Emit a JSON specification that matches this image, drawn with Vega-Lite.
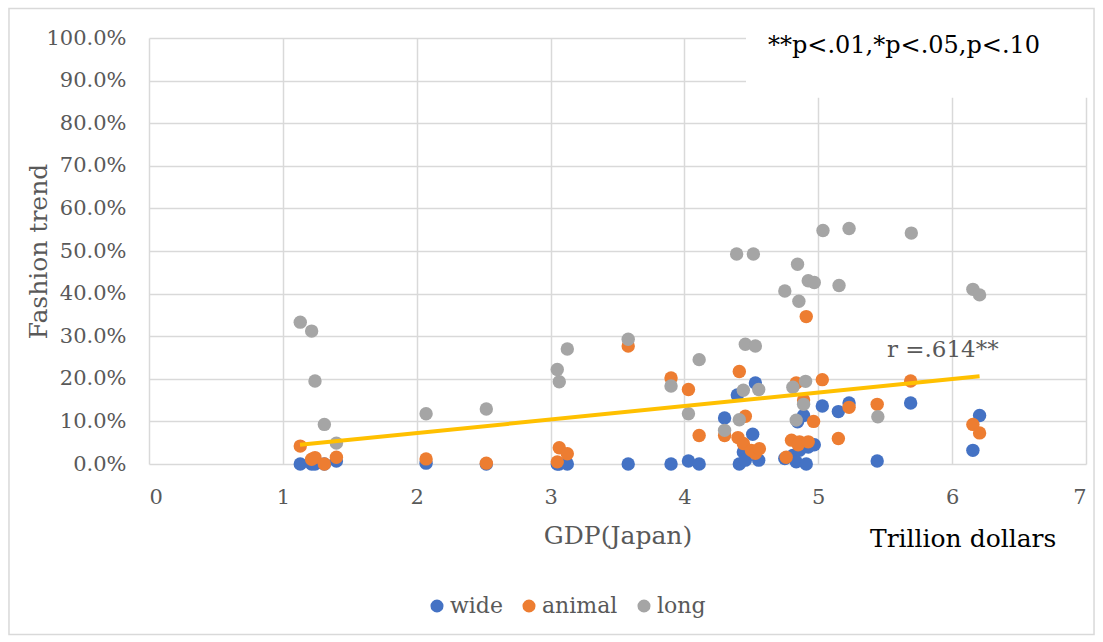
{
  "$schema": "https://vega.github.io/schema/vega-lite/v6.json",
  "autosize": "none",
  "width": 937,
  "height": 426,
  "padding": {"left": 149, "top": 38, "right": 17, "bottom": 178},
  "background": "white",
  "config": {
    "view": {"stroke": null},
    "font": "DejaVu Serif",
    "axis": {
      "grid": true, "gridColor": "#d9d9d9", "gridWidth": 1.5,
      "domain": false, "ticks": false,
      "labelFont": "DejaVu Serif", "labelFontSize": 21, "labelColor": "#595959",
      "titleFont": "DejaVu Serif", "titleFontSize": 25, "titleColor": "#595959", "titleFontWeight": "normal"
    }
  },
  "datasets": {
    "pts": [
      {"gdp": 1.13, "series": "wide", "v": 0.0},
      {"gdp": 1.215, "series": "wide", "v": 0.0},
      {"gdp": 1.24, "series": "wide", "v": 0.0},
      {"gdp": 1.31, "series": "wide", "v": 0.0},
      {"gdp": 1.40, "series": "wide", "v": 0.007},
      {"gdp": 2.07, "series": "wide", "v": 0.002},
      {"gdp": 2.52, "series": "wide", "v": 0.0},
      {"gdp": 3.05, "series": "wide", "v": 0.0},
      {"gdp": 3.065, "series": "wide", "v": 0.0},
      {"gdp": 3.125, "series": "wide", "v": 0.0},
      {"gdp": 3.58, "series": "wide", "v": 0.0},
      {"gdp": 3.90, "series": "wide", "v": 0.0},
      {"gdp": 4.03, "series": "wide", "v": 0.007},
      {"gdp": 4.11, "series": "wide", "v": 0.0},
      {"gdp": 4.30, "series": "wide", "v": 0.108},
      {"gdp": 4.395, "series": "wide", "v": 0.162},
      {"gdp": 4.41, "series": "wide", "v": 0.0},
      {"gdp": 4.44, "series": "wide", "v": 0.028},
      {"gdp": 4.455, "series": "wide", "v": 0.009},
      {"gdp": 4.51, "series": "wide", "v": 0.070},
      {"gdp": 4.53, "series": "wide", "v": 0.190},
      {"gdp": 4.555, "series": "wide", "v": 0.009},
      {"gdp": 4.75, "series": "wide", "v": 0.013},
      {"gdp": 4.81, "series": "wide", "v": 0.020},
      {"gdp": 4.835, "series": "wide", "v": 0.005},
      {"gdp": 4.845, "series": "wide", "v": 0.099},
      {"gdp": 4.86, "series": "wide", "v": 0.032},
      {"gdp": 4.89, "series": "wide", "v": 0.114},
      {"gdp": 4.91, "series": "wide", "v": 0.0},
      {"gdp": 4.925, "series": "wide", "v": 0.040},
      {"gdp": 4.97, "series": "wide", "v": 0.045},
      {"gdp": 5.03, "series": "wide", "v": 0.136},
      {"gdp": 5.15, "series": "wide", "v": 0.123},
      {"gdp": 5.23, "series": "wide", "v": 0.143},
      {"gdp": 5.44, "series": "wide", "v": 0.007},
      {"gdp": 5.69, "series": "wide", "v": 0.143},
      {"gdp": 6.155, "series": "wide", "v": 0.032},
      {"gdp": 6.205, "series": "wide", "v": 0.114},
      {"gdp": 1.13, "series": "animal", "v": 0.042},
      {"gdp": 1.215, "series": "animal", "v": 0.011},
      {"gdp": 1.24, "series": "animal", "v": 0.015},
      {"gdp": 1.31, "series": "animal", "v": 0.0},
      {"gdp": 1.40, "series": "animal", "v": 0.016},
      {"gdp": 2.07, "series": "animal", "v": 0.012},
      {"gdp": 2.52, "series": "animal", "v": 0.002},
      {"gdp": 3.05, "series": "animal", "v": 0.005},
      {"gdp": 3.065, "series": "animal", "v": 0.038},
      {"gdp": 3.125, "series": "animal", "v": 0.024},
      {"gdp": 3.58, "series": "animal", "v": 0.277},
      {"gdp": 3.90, "series": "animal", "v": 0.202},
      {"gdp": 4.03, "series": "animal", "v": 0.175},
      {"gdp": 4.11, "series": "animal", "v": 0.067},
      {"gdp": 4.30, "series": "animal", "v": 0.067},
      {"gdp": 4.41, "series": "animal", "v": 0.217},
      {"gdp": 4.40, "series": "animal", "v": 0.062},
      {"gdp": 4.44, "series": "animal", "v": 0.048},
      {"gdp": 4.455, "series": "animal", "v": 0.112},
      {"gdp": 4.50, "series": "animal", "v": 0.032},
      {"gdp": 4.53, "series": "animal", "v": 0.025},
      {"gdp": 4.56, "series": "animal", "v": 0.036},
      {"gdp": 4.76, "series": "animal", "v": 0.016},
      {"gdp": 4.80, "series": "animal", "v": 0.056},
      {"gdp": 4.835, "series": "animal", "v": 0.190},
      {"gdp": 4.86, "series": "animal", "v": 0.052},
      {"gdp": 4.85, "series": "animal", "v": 0.045},
      {"gdp": 4.89, "series": "animal", "v": 0.150},
      {"gdp": 4.91, "series": "animal", "v": 0.346},
      {"gdp": 4.925, "series": "animal", "v": 0.052},
      {"gdp": 4.965, "series": "animal", "v": 0.100},
      {"gdp": 5.03, "series": "animal", "v": 0.198},
      {"gdp": 5.15, "series": "animal", "v": 0.060},
      {"gdp": 5.23, "series": "animal", "v": 0.133},
      {"gdp": 5.44, "series": "animal", "v": 0.140},
      {"gdp": 5.69, "series": "animal", "v": 0.195},
      {"gdp": 6.155, "series": "animal", "v": 0.093},
      {"gdp": 6.205, "series": "animal", "v": 0.073},
      {"gdp": 1.13, "series": "long", "v": 0.333},
      {"gdp": 1.215, "series": "long", "v": 0.312},
      {"gdp": 1.24, "series": "long", "v": 0.195},
      {"gdp": 1.31, "series": "long", "v": 0.093},
      {"gdp": 1.40, "series": "long", "v": 0.049},
      {"gdp": 2.07, "series": "long", "v": 0.118},
      {"gdp": 2.52, "series": "long", "v": 0.129},
      {"gdp": 3.05, "series": "long", "v": 0.222},
      {"gdp": 3.065, "series": "long", "v": 0.193},
      {"gdp": 3.125, "series": "long", "v": 0.270},
      {"gdp": 3.58, "series": "long", "v": 0.293},
      {"gdp": 3.90, "series": "long", "v": 0.183},
      {"gdp": 4.03, "series": "long", "v": 0.118},
      {"gdp": 4.11, "series": "long", "v": 0.245},
      {"gdp": 4.30, "series": "long", "v": 0.079},
      {"gdp": 4.39, "series": "long", "v": 0.493},
      {"gdp": 4.41, "series": "long", "v": 0.104},
      {"gdp": 4.44, "series": "long", "v": 0.173},
      {"gdp": 4.455, "series": "long", "v": 0.281},
      {"gdp": 4.515, "series": "long", "v": 0.493},
      {"gdp": 4.53, "series": "long", "v": 0.277},
      {"gdp": 4.555, "series": "long", "v": 0.175},
      {"gdp": 4.75, "series": "long", "v": 0.406},
      {"gdp": 4.81, "series": "long", "v": 0.180},
      {"gdp": 4.835, "series": "long", "v": 0.103},
      {"gdp": 4.845, "series": "long", "v": 0.469},
      {"gdp": 4.855, "series": "long", "v": 0.382},
      {"gdp": 4.89, "series": "long", "v": 0.140},
      {"gdp": 4.905, "series": "long", "v": 0.194},
      {"gdp": 4.925, "series": "long", "v": 0.430},
      {"gdp": 4.97, "series": "long", "v": 0.426},
      {"gdp": 5.035, "series": "long", "v": 0.548},
      {"gdp": 5.155, "series": "long", "v": 0.419},
      {"gdp": 5.23, "series": "long", "v": 0.553},
      {"gdp": 5.445, "series": "long", "v": 0.111},
      {"gdp": 5.695, "series": "long", "v": 0.542},
      {"gdp": 6.155, "series": "long", "v": 0.410},
      {"gdp": 6.205, "series": "long", "v": 0.397}
    ],
    "trend": [
      {"gdp": 1.128, "v": 0.045},
      {"gdp": 6.205, "v": 0.206}
    ]
  },
  "layer": [
    {
      "data": {"values": [{}]},
      "mark": {"type": "rect", "filled": false, "stroke": "#d9d9d9", "strokeWidth": 1.5},
      "encoding": {
        "x": {"datum": -1.046, "type": "quantitative"},
        "x2": {"datum": 7.06},
        "y": {"datum": 1.069, "type": "quantitative"},
        "y2": {"datum": -0.40}
      }
    },
    {
      "data": {"values": [{}]},
      "mark": {"type": "rect", "fill": "white", "stroke": null},
      "encoding": {
        "x": {"datum": 4.46, "type": "quantitative"},
        "x2": {"datum": 7.05},
        "y": {"datum": 1.01, "type": "quantitative"},
        "y2": {"datum": 0.86}
      }
    },
    {
      "data": {"name": "pts"},
      "mark": {"type": "circle", "size": 180, "opacity": 1},
      "encoding": {
        "x": {
          "field": "gdp", "type": "quantitative",
          "scale": {"domain": [0, 7], "nice": false},
          "axis": {
            "title": "GDP(Japan)", "values": [0, 1, 2, 3, 4, 5, 6, 7], "format": "d",
            "labelPadding": 22, "titleY": 79, "titleBaseline": "alphabetic"
          }
        },
        "y": {
          "field": "v", "type": "quantitative",
          "scale": {"domain": [0, 1], "nice": false},
          "axis": {
            "title": "Fashion trend", "format": ".1%",
            "values": [0, 0.1, 0.2, 0.3, 0.4, 0.5, 0.6, 0.7, 0.8, 0.9, 1.0],
            "labelPadding": 23, "titleX": -103, "titleY": 213, "titleAngle": -90,
            "titleBaseline": "alphabetic", "titleAlign": "center"
          }
        },
        "color": {
          "field": "series", "type": "nominal",
          "scale": {"domain": ["wide", "animal", "long"], "range": ["#4472C4", "#ED7D31", "#A5A5A5"]},
          "legend": {
            "title": null, "orient": "none", "direction": "horizontal",
            "legendX": 277, "legendY": 557,
            "symbolType": "circle", "symbolSize": 170, "symbolOpacity": 1,
            "labelFont": "DejaVu Serif", "labelFontSize": 22, "labelColor": "#595959",
            "labelOffset": 2, "columnPadding": 15
          }
        }
      }
    },
    {
      "data": {"name": "trend"},
      "mark": {"type": "line", "color": "#FFC000", "strokeWidth": 4},
      "encoding": {
        "x": {"field": "gdp", "type": "quantitative"},
        "y": {"field": "v", "type": "quantitative"}
      }
    },
    {
      "data": {"values": [{}]},
      "mark": {"type": "text", "text": "r =.614**", "font": "DejaVu Serif", "fontSize": 23, "color": "#595959", "align": "left", "baseline": "alphabetic"},
      "encoding": {
        "x": {"datum": 5.513, "type": "quantitative"},
        "y": {"datum": 0.251, "type": "quantitative"}
      }
    },
    {
      "data": {"values": [{}]},
      "mark": {"type": "text", "text": "**p<.01,*p<.05,p<.10", "font": "DejaVu Serif", "fontSize": 24, "color": "black", "align": "left", "baseline": "alphabetic"},
      "encoding": {
        "x": {"datum": 4.624, "type": "quantitative"},
        "y": {"datum": 0.964, "type": "quantitative"}
      }
    },
    {
      "data": {"values": [{}]},
      "mark": {"type": "text", "text": "Trillion dollars", "font": "DejaVu Serif", "fontSize": 25, "color": "black", "align": "left", "baseline": "alphabetic"},
      "encoding": {
        "x": {"datum": 5.386, "type": "quantitative"},
        "y": {"datum": -0.195, "type": "quantitative"}
      }
    }
  ]
}
